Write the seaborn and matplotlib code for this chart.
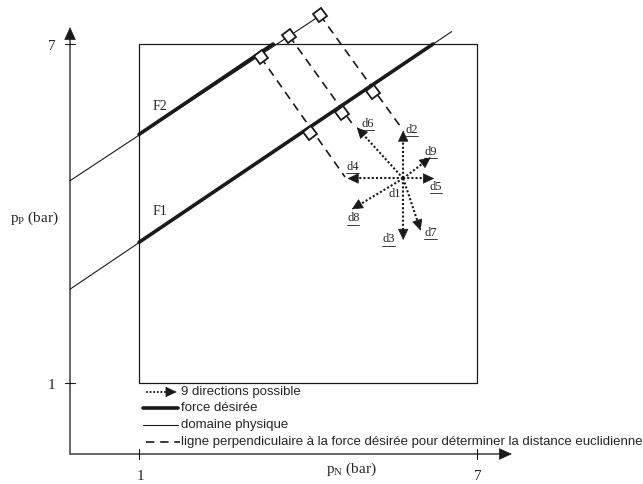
import numpy as np
import pandas as pd
import matplotlib
matplotlib.use("Agg")
import matplotlib.pyplot as plt
from matplotlib.markers import MarkerStyle
from matplotlib.transforms import Affine2D
import seaborn as sns

# ---------------- data (in chart units: p_N, p_P in bar) ----------------
box_x = [1, 7, 7, 1, 1]
box_y = [1, 1, 7, 7, 1]

tick_values = [1, 7]
tick_labels = ["1", "7"]

# force lines (thin = full line, thick = desired-force part inside domain)
f1_thin_x = [-0.225, 6.55]
f1_thin_y = [2.66, 7.22]
f1_thick_x = [1.0, 6.22]
f1_thick_y = [3.49, 7.0]
f2_thin_x = [-0.225, 4.225]
f2_thin_y = [4.58, 7.51]
f2_thick_x = [1.0, 3.38]
f2_thick_y = [5.40, 7.0]
force_names = ["F1", "F2"]
force_label_x = [1.373, 1.373]
force_label_y = [4.044, 5.890]

# right-angle squares on the force lines
sq_x = [3.160, 3.668, 4.213, 4.036, 4.598, 5.159]
sq_y = [6.765, 7.142, 7.513, 5.419, 5.784, 6.156]

# dashed perpendicular lines (start on F2, end near arrow tips)
dash_x0 = [3.160, 3.668, 4.213]
dash_y0 = [6.765, 7.142, 7.513]
dash_x1 = [4.657, 4.776, 5.663]
dash_y1 = [4.646, 5.602, 5.508]

# 9 directions
origin_x, origin_y = 5.69, 4.62
dir_tip_x = [5.69, 5.69, 4.70, 6.24, 4.865, 6.00, 4.776, 6.178]
dir_tip_y = [5.47, 3.53, 4.62, 4.62, 5.526, 3.696, 4.074, 4.995]
dir_names = ["d1", "d2", "d3", "d4", "d5", "d6", "d7", "d8", "d9"]
dir_label_x = [5.544, 5.841, 5.426, 4.793, 6.272, 5.065, 6.178, 4.804, 6.178]
dir_label_y = [4.345, 5.478, 3.543, 4.818, 4.464, 5.584, 3.660, 3.915, 5.094]

legend_texts = ["9 directions possible", "force désirée", "domaine physique",
                "ligne perpendiculaire à la force désirée pour déterminer la distance euclidienne"]
legend_y = [0.841, 0.558, 0.257, -0.044]

# ---------------- style ----------------
sns.set_theme(style="white")
plt.rcParams["font.family"] = ["Liberation Serif", "DejaVu Serif"]
plt.rcParams["mathtext.default"] = "regular"

fig = plt.figure(figsize=(6.43, 4.84), dpi=100)
ax = fig.add_axes([0, 0, 1, 1])
ax.set_xlim(-1.468, 9.947)
ax.set_ylim(-0.788, 7.779)
ax.axis("off")

AX_X = -0.225   # position of the drawn p_P axis
AX_Y = -0.257   # position of the drawn p_N axis
axis_col = "#5a5a5a"

# axes with arrows
ax.plot([AX_X, AX_X], [AX_Y, 7.12], color=axis_col, lw=1.3, zorder=2)
ax.plot([AX_X, 7.45], [AX_Y, AX_Y], color=axis_col, lw=1.3, zorder=2)
head = dict(arrowstyle="-|>,head_length=0.42,head_width=0.19", color="k",
            lw=0.5, shrinkA=0, shrinkB=0, mutation_scale=20)
ax.annotate("", xy=(AX_X, 7.30), xytext=(AX_X, 7.12), arrowprops=head)
ax.annotate("", xy=(7.62, AX_Y), xytext=(7.44, AX_Y), arrowprops=head)

# ticks + tick labels
for v, lab in zip(tick_values, tick_labels):
    ax.plot([v, v], [AX_Y - 0.09, AX_Y + 0.09], color="k", lw=0.8)
    ax.plot([AX_X - 0.09, AX_X + 0.09], [v, v], color="k", lw=0.8)
    ax.text(v + 0.02, -0.655, lab, ha="center", va="center", fontsize=11)
    ax.text(-0.555, v - 0.04, lab, ha="center", va="center", fontsize=11)

ax.text(4.763, -0.52, r"$p_N$ (bar)", ha="center", va="center", fontsize=11)
ax.text(-0.864, 3.915, r"$p_P$ (bar)", ha="center", va="center", fontsize=11)

# physical domain box
ax.plot(box_x, box_y, color="k", lw=0.9, zorder=2)

# force lines
for tx, ty in [(f1_thin_x, f1_thin_y), (f2_thin_x, f2_thin_y)]:
    sns.lineplot(x=tx, y=ty, ax=ax, color="k", lw=0.8, sort=False, estimator=None, zorder=3)
for tx, ty in [(f1_thick_x, f1_thick_y), (f2_thick_x, f2_thick_y)]:
    sns.lineplot(x=tx, y=ty, ax=ax, color="k", lw=2.6, sort=False, estimator=None, zorder=3)
for name, lx, ly in zip(force_names, force_label_x, force_label_y):
    ax.text(lx, ly, name, ha="center", va="center", fontsize=10)

# dashed perpendicular lines
for x0, y0, x1, y1 in zip(dash_x0, dash_y0, dash_x1, dash_y1):
    ax.plot([x0, x1], [y0, y1], color="k", lw=1.2, linestyle=(0, (5, 3.5)), zorder=3)

# right-angle squares
sq_marker = MarkerStyle("s", transform=Affine2D().rotate_deg(34))
ax.plot(sq_x, sq_y, linestyle="none", marker=sq_marker, markersize=7.0,
        markerfacecolor="white", markeredgecolor="k", markeredgewidth=1.3, zorder=5)

# 9 directions (dotted arrows)
arrow_head = dict(arrowstyle="-|>,head_length=0.36,head_width=0.17", color="k",
                  lw=0.5, shrinkA=0, shrinkB=0, mutation_scale=20)
for tx, ty in zip(dir_tip_x, dir_tip_y):
    dx, dy = tx - origin_x, ty - origin_y
    n = np.hypot(dx, dy)
    bx, by = tx - dx / n * 0.15, ty - dy / n * 0.15
    ax.plot([origin_x, bx], [origin_y, by], color="k", lw=1.5,
            linestyle=(0, (1, 1)), dash_capstyle="butt", zorder=4)
    ax.annotate("", xy=(tx, ty), xytext=(bx, by), arrowprops=arrow_head, zorder=4)

for name, lx, ly in zip(dir_names, dir_label_x, dir_label_y):
    ax.text(lx, ly, name, ha="center", va="center", fontsize=9, zorder=6)
    if name != "d1":
        ax.plot([lx - 0.11, lx + 0.11], [ly - 0.11, ly - 0.11], color="k", lw=0.6, zorder=6)

# legend (drawn manually)
lx0, lx1, ltext = 1.12, 1.69, 1.75
ax.plot([lx0, lx1 - 0.14], [legend_y[0]] * 2, color="k", lw=1.3, linestyle=(0, (1, 1)))
ax.annotate("", xy=(lx1 - 0.02, legend_y[0]), xytext=(lx1 - 0.16, legend_y[0]), arrowprops=arrow_head)
ax.plot([lx0 - 0.05, lx1], [legend_y[1]] * 2, color="k", lw=2.6)
ax.plot([lx0 - 0.05, lx1], [legend_y[2]] * 2, color="k", lw=0.8)
ax.plot([lx0, lx1 + 0.03], [legend_y[3]] * 2, color="k", lw=1.2, linestyle=(0, (5, 3.5)))
for t, y in zip(legend_texts, legend_y):
    ax.text(ltext, y, t, ha="left", va="center", fontsize=9.5,
            family=["Liberation Sans", "DejaVu Sans"])

fig.savefig("out.png", dpi=100)
